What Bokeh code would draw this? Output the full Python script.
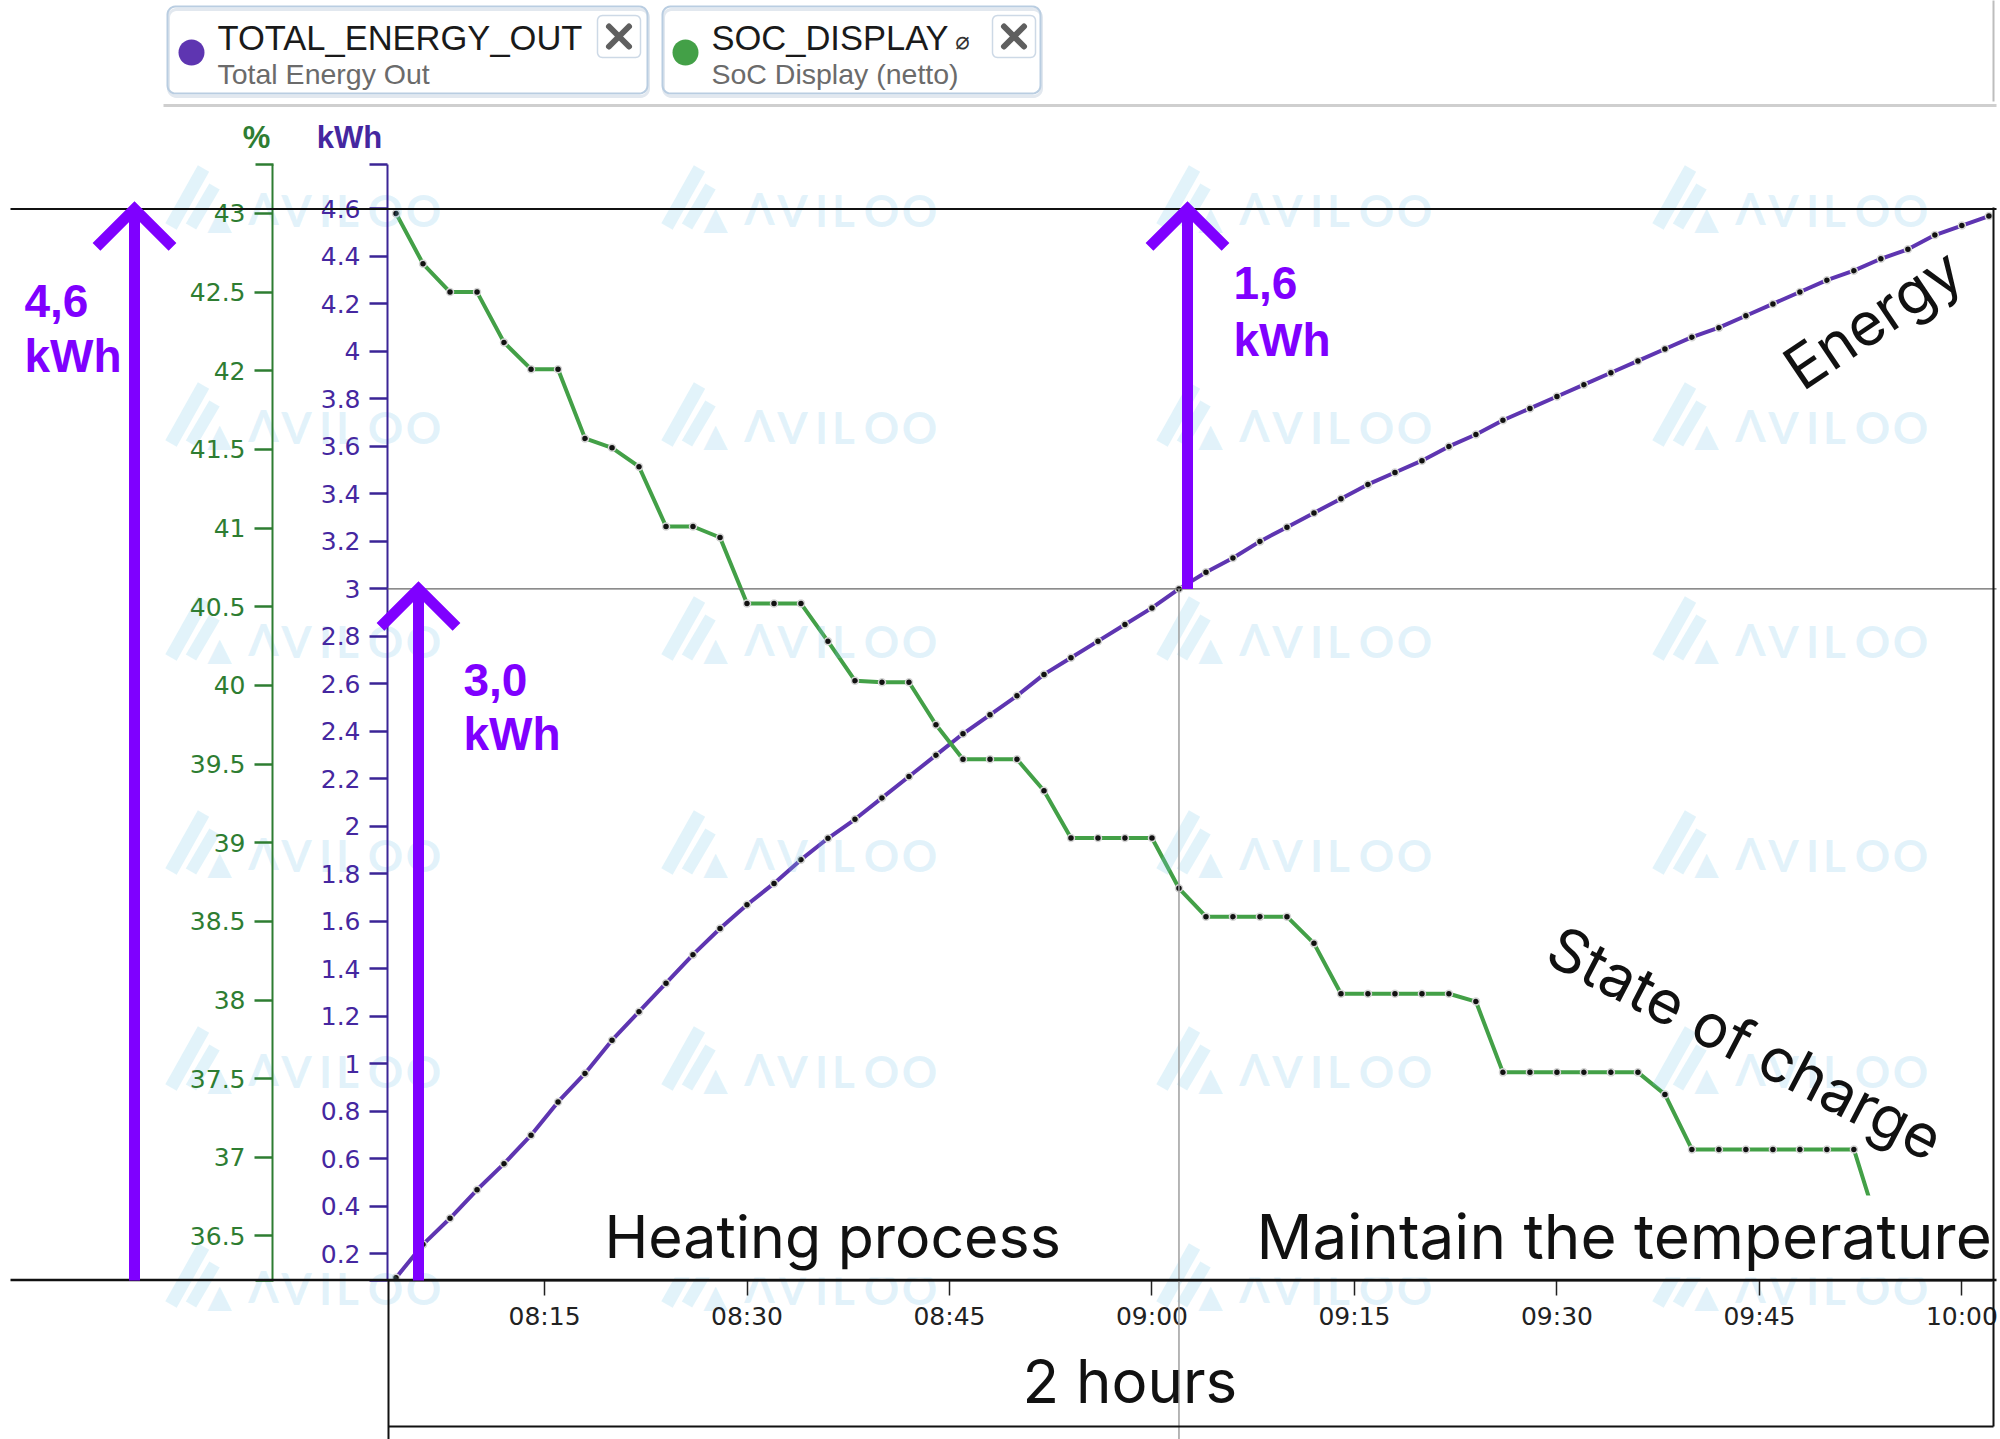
import math
import pandas as pd
from bokeh.plotting import figure
from bokeh.models import Range1d, LinearAxis, FixedTicker, DatetimeTickFormatter, NumeralTickFormatter
from bokeh.core.properties import value
from bokeh.embed import file_html
from bokeh.resources import INLINE

# ---------------- data ----------------
DAY = "2024-01-01 "

sample_times = [
    "08:04", "08:06", "08:08", "08:10", "08:12", "08:14", "08:16", "08:18", "08:20", "08:22",
    "08:24", "08:26", "08:28", "08:30", "08:32", "08:34", "08:36", "08:38", "08:40", "08:42",
    "08:44", "08:46", "08:48", "08:50", "08:52", "08:54", "08:56", "08:58", "09:00", "09:02",
    "09:04", "09:06", "09:08", "09:10", "09:12", "09:14", "09:16", "09:18", "09:20", "09:22",
    "09:24", "09:26", "09:28", "09:30", "09:32", "09:34", "09:36", "09:38", "09:40", "09:42",
    "09:44", "09:46", "09:48", "09:50", "09:52", "09:54", "09:56", "09:58", "10:00", "10:02",
]

energy_kwh = [
    0.10, 0.24, 0.35, 0.47, 0.58, 0.70, 0.84, 0.96, 1.10, 1.22,
    1.34, 1.46, 1.57, 1.67, 1.76, 1.86, 1.95, 2.03, 2.12, 2.21,
    2.30, 2.39, 2.47, 2.55, 2.64, 2.71, 2.78, 2.85, 2.92, 3.00,
    3.07, 3.13, 3.20, 3.26, 3.32, 3.38, 3.44, 3.49, 3.54, 3.60,
    3.65, 3.71, 3.76, 3.81, 3.86, 3.91, 3.96, 4.01, 4.06, 4.10,
    4.15, 4.20, 4.25, 4.30, 4.34, 4.39, 4.43, 4.49, 4.53, 4.57,
]

soc_percent = [
    43.00, 42.68, 42.50, 42.50, 42.18, 42.01, 42.01, 41.57, 41.51, 41.39,
    41.01, 41.01, 40.94, 40.52, 40.52, 40.52, 40.28, 40.03, 40.02, 40.02,
    39.75, 39.53, 39.53, 39.53, 39.33, 39.03, 39.03, 39.03, 39.03, 38.71,
    38.53, 38.53, 38.53, 38.53, 38.36, 38.04, 38.04, 38.04, 38.04, 38.04,
    37.99, 37.54, 37.54, 37.54, 37.54, 37.54, 37.54, 37.40, 37.05, 37.05,
    37.05, 37.05, 37.05, 37.05, 37.05, 36.50,
]

time_ticks = ["08:15", "08:30", "08:45", "09:00", "09:15", "09:30", "09:45", "10:00"]
kwh_ticks = [0.2, 0.4, 0.6, 0.8, 1.0, 1.2, 1.4, 1.6, 1.8, 2.0, 2.2, 2.4,
             2.6, 2.8, 3.0, 3.2, 3.4, 3.6, 3.8, 4.0, 4.2, 4.4, 4.6]
pct_ticks = [36.5, 37.0, 37.5, 38.0, 38.5, 39.0, 39.5, 40.0, 40.5,
             41.0, 41.5, 42.0, 42.5, 43.0]

total_kwh = 4.6
heating_kwh = 3.0
holding_kwh = 1.6
heating_end = "09:02"

series_names = ["TOTAL_ENERGY_OUT", "SOC_DISPLAY"]
series_subtitles = ["Total Energy Out", "SoC Display (netto)"]

# ---------------- helpers ----------------
def ts(s):
    return pd.Timestamp(DAY + s)

def ms(s):
    return ts(s).value / 1e6

PURPLE = "#5e35b1"
GREEN = "#43a047"
VIOLET = "#7f00ff"
AX_GREEN = "#2e7d32"
AX_PURPLE = "#3b2596"
WM = "#7cc8ea"
WM_A = 0.22

W, H = 2000, 1439
FL, FR, FT, FB = 387, 1992, 164, 1280
KWH_RANGE = (0.088, 4.787)
PX_PER_KWH = (FB - FT) / (KWH_RANGE[1] - KWH_RANGE[0])

p = figure(width=W, height=H, output_backend="svg", toolbar_location=None,
           x_axis_type="datetime",
           x_range=Range1d(ts("08:03:22"), ts("10:02:16")),
           y_range=Range1d(*KWH_RANGE),
           min_border_left=FL, min_border_right=W - FR,
           min_border_top=FT, min_border_bottom=H - FB)
p.extra_y_ranges = {"pct": Range1d(36.217, 43.311), "py": Range1d(FB, FT)}
p.extra_x_ranges = {"px": Range1d(FL, FR)}
p.outline_line_color = None
p.xgrid.visible = False
p.ygrid.visible = False
p.background_fill_color = "white"
p.border_fill_color = "white"

PXPY = dict(x_range_name="px", y_range_name="py")
OV = dict(level="overlay", **PXPY)

# ---------------- watermark ----------------
wm_cols = [163, 659, 1154, 1650]
wm_rows = [166, 383, 597, 811, 1027, 1244]
stripes = [((7.5, 60), (40, 2), 13), ((27.5, 60), (51, 20), 12)]
letters = ["V", "V", "I", "L", "O", "O"]
letter_dx = [100, 133, 162, 184, 222, 260]
letter_angle = [math.pi, 0, 0, 0, 0, 0]
sx0, sy0, sx1, sy1, sw = [], [], [], [], []
lx, ly, lt, la, trx, try_ = [], [], [], [], [], []
for cx in wm_cols:
    for cy in wm_rows:
        for (a, b), (c, d), w in stripes:
            sx0.append(cx + a); sy0.append(cy + b); sx1.append(cx + c); sy1.append(cy + d); sw.append(w)
        trx.append(cx + 56); try_.append(cy + 51)
        for L, dx, ang in zip(letters, letter_dx, letter_angle):
            lx.append(cx + dx); ly.append(cy + 43.5); lt.append(L); la.append(ang)
p.segment(sx0, sy0, sx1, sy1, line_color=WM, line_alpha=WM_A, line_width=sw, line_cap="butt",
          level="guide", **PXPY)
p.text(trx, try_, text=["\u25b2"] * len(trx), text_font=value("DejaVu Sans"), text_font_size="32px",
       text_color=WM, text_alpha=WM_A, text_align="center", text_baseline="middle",
       level="guide", **PXPY)
p.text(lx, ly, text=lt, angle=la, text_font=value("Lato"), text_font_style="bold",
       text_font_size="44px", text_color=WM, text_alpha=WM_A, text_align="center",
       text_baseline="middle", level="guide", **PXPY)

# ---------------- axes ----------------
xa = p.xaxis[0]
xa.ticker = FixedTicker(ticks=[ms(t) for t in time_ticks])
fmt = "%H:%M"
xa.formatter = DatetimeTickFormatter(milliseconds=fmt, seconds=fmt, minsec=fmt, minutes=fmt,
                                     hourmin=fmt, hours=fmt, days=fmt)
xa.axis_line_color = "#111"
xa.axis_line_width = 2
xa.major_tick_line_color = "#222"
xa.major_tick_line_width = 1.5
xa.major_tick_out = 15
xa.major_tick_in = 0
xa.minor_tick_line_color = None
xa.major_label_text_font = "DejaVu Sans"
xa.major_label_text_font_size = "25px"
xa.major_label_text_color = "#222"
xa.major_label_standoff = 6

ya = p.yaxis[0]
ya.ticker = FixedTicker(ticks=kwh_ticks)
ya.formatter = NumeralTickFormatter(format="0.[0]")
ya.axis_line_color = AX_PURPLE
ya.axis_line_width = 2
ya.major_tick_line_color = AX_PURPLE
ya.major_tick_line_width = 2.5
ya.major_tick_out = 18
ya.major_tick_in = 0
ya.minor_tick_line_color = None
ya.major_label_text_font = "DejaVu Sans"
ya.major_label_text_font_size = "25px"
ya.major_label_text_color = "#4527a0"
ya.major_label_standoff = 9
ya.axis_label = "kWh"
ya.axis_label_text_alpha = 0
ya.axis_label_text_font_size = "10px"
ya.axis_label_standoff = 31

pa = LinearAxis(y_range_name="pct", ticker=FixedTicker(ticks=pct_ticks),
                formatter=NumeralTickFormatter(format="0.[0]"))
pa.axis_line_color = AX_GREEN
pa.axis_line_width = 2
pa.major_tick_line_color = AX_GREEN
pa.major_tick_line_width = 2.5
pa.major_tick_out = 18
pa.major_tick_in = 0
pa.minor_tick_line_color = None
pa.major_label_text_font = "DejaVu Sans"
pa.major_label_text_font_size = "25px"
pa.major_label_text_color = AX_GREEN
pa.major_label_standoff = 9
p.add_layout(pa, "left")

# axis end caps and titles
p.segment(x0=[255, 255, 369, 369], y0=[FT, FB, FT, FB], x1=[273, 273, 387, 387], y1=[FT, FB, FT, FB],
          line_color=[AX_GREEN, AX_GREEN, AX_PURPLE, AX_PURPLE], line_width=2.5, **OV)
p.text([256, 349], [137, 137], text=["%", "kWh"], text_color=[AX_GREEN, "#4527a0"],
       text_font=value("Liberation Sans"), text_font_style="bold", text_font_size="31px",
       text_align="center", text_baseline="middle", **OV)

# ---------------- data series ----------------
t_e = [ts(s) for s in sample_times]
t_s = t_e[:len(soc_percent)]
p.line(t_e, energy_kwh, line_color=PURPLE, line_width=4)
p.scatter(t_e, energy_kwh, size=7, fill_color="#111", line_color="#d6d6d6", line_width=1.5)
p.line(t_s, soc_percent, y_range_name="pct", line_color=GREEN, line_width=4)
p.scatter(t_s, soc_percent, y_range_name="pct", size=7, fill_color="#111", line_color="#d6d6d6",
          line_width=1.5)

# ---------------- reference lines ----------------
p.segment(x0=[10], y0=[total_kwh], x1=[1996], y1=[total_kwh], x_range_name="px",
          line_color="#111", line_width=2, level="overlay")
p.segment(x0=[FL], y0=[heating_kwh], x1=[1996], y1=[heating_kwh], x_range_name="px",
          line_color="#666", line_width=1.3, level="overlay")
p.segment(x0=[ts(heating_end)], y0=[heating_kwh], x1=[ts(heating_end)], y1=[-0.8],
          line_color="#9e9e9e", line_width=1.5, level="overlay")
p.segment(x0=[10, 388, 1993, 388], y0=[1279.5, 1280, 207, 1426],
          x1=[1996, 388, 1993, 1993], y1=[1279.5, 1439, 1426, 1426],
          line_color="#111", line_width=[2.5, 2, 2, 2], **OV)

# ---------------- label backgrounds + labels ----------------
p.quad(left=[590, 1245], right=[1075, 1990], top=[1195, 1195], bottom=[1277, 1277],
       fill_color="white", line_color=None, **OV)
p.text([604], [1236], text=["Heating process"], text_font=value("Inter"), text_font_size="59px",
       text_color="#111", text_baseline="middle", **OV)
p.text([1256], [1236], text=["Maintain the temperature"], text_font=value("Inter"),
       text_font_size="62px", text_color="#111", text_baseline="middle", **OV)
p.text([1022], [1380], text=["2 hours"], text_font=value("Inter"), text_font_size="60px",
       text_color="#111", text_baseline="middle", **OV)
p.text([1872], [318], text=["Energy"], angle=math.radians(34), text_font=value("Inter"),
       text_font_size="60px", text_color="#111", text_align="center", text_baseline="middle", **OV)
p.text([1745], [1042], text=["State of charge"], angle=math.radians(-27.5), text_font=value("Inter"),
       text_font_size="60px", text_color="#111", text_align="center", text_baseline="middle", **OV)

# ---------------- big arrows ----------------
arrow_x = [134, 418, 1187]
arrow_bottom = [KWH_RANGE[0], KWH_RANGE[0], heating_kwh]
arrow_top = [total_kwh, heating_kwh, heating_kwh + holding_kwh]
arm = 38
arm_k = arm / PX_PER_KWH
p.segment(x0=arrow_x, y0=arrow_bottom, x1=arrow_x, y1=arrow_top, x_range_name="px",
          line_color=VIOLET, line_width=11, line_cap="butt", level="overlay")
p.multi_line(xs=[[x - arm, x, x + arm] for x in arrow_x],
             ys=[[t - arm_k, t, t - arm_k] for t in arrow_top], x_range_name="px",
             line_color=VIOLET, line_width=11, line_join="miter", line_cap="butt", level="overlay")
amount_labels = [f"{v:.1f}".replace(".", ",") for v in (total_kwh, heating_kwh, holding_kwh)]
lab_x = [24, 463, 1233]
lab_y1 = [300, 679, 282]
lab_y2 = [355, 733, 339]
p.text(lab_x * 2, lab_y1 + lab_y2, text=amount_labels + ["kWh"] * 3, text_color=VIOLET,
       text_font=value("Liberation Sans"), text_font_style="bold", text_font_size="46px",
       text_baseline="middle", **OV)

# ---------------- legend chips ----------------
def rrect(x0, y0, x1, y1, r, n=6):
    pts = []
    corners = [(x1 - r, y0 + r, -90, 0), (x1 - r, y1 - r, 0, 90),
               (x0 + r, y1 - r, 90, 180), (x0 + r, y0 + r, 180, 270)]
    for cx, cy, a0, a1 in corners:
        for k in range(n + 1):
            a = math.radians(a0 + (a1 - a0) * k / n)
            pts.append((cx + r * math.cos(a), cy + r * math.sin(a)))
    pts.append(pts[0])
    return [q[0] for q in pts], [q[1] for q in pts]

chips = [(167, 6, 647, 93), (662, 6, 1040, 93)]
buttons = [(597, 15, 640, 57), (992, 15, 1035, 57)]
sh = [rrect(x0 + 1, y0 + 3, x1 + 1, y1 + 3, 8) for x0, y0, x1, y1 in chips]
p.multi_line([s[0] for s in sh], [s[1] for s in sh], line_color="#e2e8ef", line_width=3, **OV)
cb = [rrect(*c, 8) for c in chips]
p.multi_line([s[0] for s in cb], [s[1] for s in cb], line_color="#b9cde1", line_width=2, **OV)
bb = [rrect(*b, 5) for b in buttons]
p.multi_line([s[0] for s in bb], [s[1] for s in bb], line_color="#cdd9e6", line_width=1.5, **OV)
xc = [(b[0] + b[2]) / 2 for b in buttons]
yc = [(b[1] + b[3]) / 2 for b in buttons]
d = 10
p.segment(x0=[x - d for x in xc] * 2, y0=[y - d for y in yc] + [y + d for y in yc],
          x1=[x + d for x in xc] * 2, y1=[y + d for y in yc] + [y - d for y in yc],
          line_color="#5f5f5f", line_width=6, line_cap="round", **OV)
# colour dots (round-capped zero-length strokes)
p.segment(x0=[191, 685], y0=[52, 52], x1=[191.01, 685.01], y1=[52, 52],
          line_color=[PURPLE, GREEN], line_width=26, line_cap="round", **OV)
p.text([217, 711], [37, 37], text=series_names, text_font=value("Liberation Sans"),
       text_font_size="34.5px", text_color="#1a1a1a", text_baseline="middle", **OV)
p.text([217, 711], [73, 73], text=series_subtitles, text_font=value("Liberation Sans"),
       text_font_size="28.5px", text_color="#6b6b6b", text_baseline="middle", **OV)
p.text([962], [40], text=["\u2300"], text_font=value("DejaVu Sans"), text_font_size="24px",
       text_color="#333", text_align="center", text_baseline="middle", **OV)
p.segment(x0=[163, 1993], y0=[105, 0], x1=[1996, 1993], y1=[105, 101],
          line_color=["#cfcfcf", "#bdbdbd"], line_width=[3, 2], **OV)

open("out.html", "w").write(file_html(p, INLINE))
